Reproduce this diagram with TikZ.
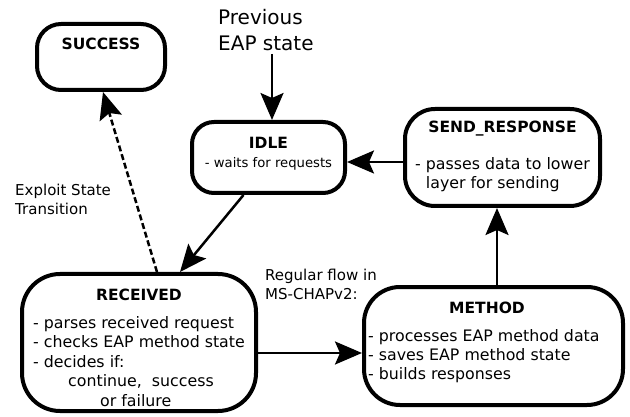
\documentclass[tikz,border=0pt]{standalone}
\usepackage{fontspec}
\setmainfont{DejaVu Sans}
\usetikzlibrary{arrows.meta}
\begin{document}
\begin{tikzpicture}[x=1pt,y=-1pt,
  box/.style={draw, line width=4pt, inner sep=0pt, fill=white},
  arr/.style={line width=2.5pt, -{Stealth[length=27pt,width=23pt,inset=5pt]}},
  ttl/.style={font=\fontsize{15.5}{18}\selectfont\bfseries, inner sep=0pt},
  body/.style={font=\fontsize{15.8}{19.5}\selectfont, align=left, anchor=north west, inner sep=0pt},
  lbl/.style={font=\fontsize{15}{18.5}\selectfont, align=left, anchor=north west, inner sep=0pt}]
\useasboundingbox (0,0) rectangle (630,417);

% state boxes
\node[box, rounded corners=24pt, minimum width=128pt, minimum height=66pt] (success) at (101,57) {};
\node[box, rounded corners=22pt, minimum width=153pt, minimum height=71pt] (idle) at (268.5,157.5) {};
\node[box, rounded corners=30pt, minimum width=195pt, minimum height=97pt] (send) at (502.5,157.5) {};
\node[box, rounded corners=38pt, minimum width=234pt, minimum height=137pt] (recv) at (139,342.5) {};
\node[box, rounded corners=36pt, minimum width=259pt, minimum height=118pt] (method) at (493.5,346) {};

% texts
\node[font=\fontsize{20}{26}\selectfont, align=left, anchor=north west, inner sep=0pt] (pe) at (218,9) {Previous\\EAP state};
\node[ttl] (successT) at (101,44) {SUCCESS};
\node[ttl] (idleT) at (268.5,143) {IDLE};
\node[font=\fontsize{13.2}{16}\selectfont, inner sep=0pt] (idleB) at (268.5,164) {- waits for requests};
\node[ttl] (sendT) at (502.5,129) {SEND\_RESPONSE};
\node[body] (sendB) at (415,157) {- passes data to lower\\\phantom{- }layer for sending};
\node[ttl] (recvT) at (139,295) {RECEIVED};
\node[body, font=\fontsize{15.8}{19.5}\selectfont] (recvB) at (33,316) {- parses received request\\- checks EAP method state\\- decides if:\\\hspace*{35pt}continue,\ \ success\\\hspace*{67pt}or failure};
\node[ttl] (methodT) at (487,308) {METHOD};
\node[body, font=\fontsize{15.8}{19}\selectfont] (methodB) at (368,329) {- processes EAP method data\\- saves EAP method state\\- builds responses};
\node[lbl] (exploit) at (15,184) {Exploit State\\Transition};
\node[lbl] (regular) at (265,269) {Regular flow in\\MS-CHAPv2:};

% connectors
\draw[arr, shorten <=3pt] ([xshift=3.5pt]idle.north |- pe.south) -- ([xshift=3.5pt]idle.north);
\draw[arr] ([yshift=-4.5pt]send.west) -- ([yshift=-4.5pt]send.west -| idle.east);
\draw[arr] ([xshift=-25pt]idle.south) -- ([xshift=41pt]recv.north);
\draw[arr, dash pattern=on 6pt off 3pt] ([xshift=18pt]recv.north) -- ([xshift=2pt]success.south);
\draw[arr] ([yshift=-10.5pt]recv.east) -- ([yshift=-10.5pt]recv.east -| method.west);
\draw[arr] ([xshift=3.5pt]method.north) -- ([xshift=3.5pt]method.north |- send.south);
\end{tikzpicture}
\end{document}
